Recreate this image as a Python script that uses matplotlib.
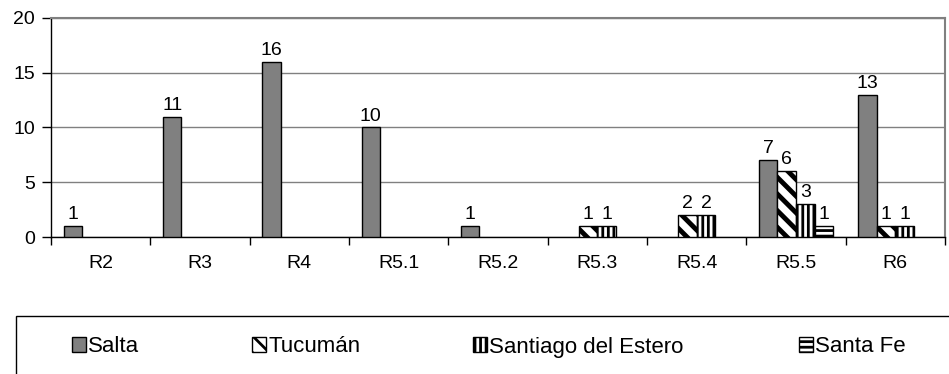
import matplotlib.pyplot as plt
import numpy as np
from matplotlib.patches import Rectangle

plt.rcParams['font.family'] = ['Liberation Sans', 'DejaVu Sans']
plt.rcParams['hatch.linewidth'] = 2.0
plt.rcParams['hatch.color'] = 'black'

# Counts per route and province
categories = ['R2', 'R3', 'R4', 'R5.1', 'R5.2', 'R5.3', 'R5.4', 'R5.5', 'R6']
salta = [1, 11, 16, 10, 1, 0, 0, 7, 13]
tucuman = [0, 0, 0, 0, 0, 1, 2, 6, 1]
santiago = [0, 0, 0, 0, 0, 1, 2, 3, 1]
santa_fe = [0, 0, 0, 0, 0, 0, 0, 1, 0]
series_names = ['Salta', 'Tucumán', 'Santiago del Estero', 'Santa Fe']
series_values = [salta, tucuman, santiago, santa_fe]

fills = ['#808080', 'white', 'white', 'white']
hatches = [None, '\\\\', '|||', '---']
hatch_widths = [2.0, 3.5, 2.0, 2.0]
legend_x = [72, 252, 473, 799]   # pixel position of each legend key

fig = plt.figure(figsize=(9.49, 3.74), dpi=100)
ax = fig.add_axes([51 / 949, 1 - 237 / 374, (945 - 51) / 949, (237 - 18) / 374])

x = np.arange(len(categories))
width = 0.187

handles = []
for i, (name, vals) in enumerate(zip(series_names, series_values)):
    vals = np.array(vals)
    idx = np.nonzero(vals)[0]
    with plt.rc_context({'hatch.linewidth': hatch_widths[i]}):
        bars = ax.bar(x[idx] + (i - 1.5) * width, vals[idx], width,
                      color=fills[i], edgecolor='black', linewidth=1,
                      hatch=hatches[i], label=name, zorder=3)
    handles.append(bars)
    for b, v in zip(bars, vals[idx]):
        ax.annotate(str(v), (b.get_x() + b.get_width() / 2, v),
                    xytext=(0, 5), textcoords='offset points',
                    ha='center', va='baseline', fontsize=14)

ax.set_xlim(-0.5, len(categories) - 0.5)
ax.set_ylim(0, 20)
ax.set_yticks(np.arange(0, 21, 5))
ax.tick_params(axis='y', length=6.5, width=1, pad=5, labelsize=14)

# tick marks between groups, labels centred under each group
ax.set_xticks(np.arange(-0.5, len(categories), 1))
ax.set_xticklabels([])
ax.set_xticks(x, minor=True)
ax.set_xticklabels(categories, minor=True)
ax.tick_params(axis='x', which='major', length=6, width=1)
ax.tick_params(axis='x', which='minor', length=0, pad=13, labelsize=14)

ax.yaxis.grid(True, color='#808080', linewidth=1)
ax.set_axisbelow(True)
for side in ['left', 'bottom']:
    ax.spines[side].set_color('black')
    ax.spines[side].set_linewidth(1)
for side in ['top', 'right']:
    ax.spines[side].set_color('#808080')
    ax.spines[side].set_linewidth(1.5)

# legend box along the bottom, one key per province
fig.add_artist(Rectangle((16 / 949, -0.1), 1.0, (1 - 316 / 374) + 0.1,
                         transform=fig.transFigure, fill=False,
                         edgecolor='black', linewidth=1))
for h, name, lx in zip(handles, series_names, legend_x):
    fig.legend(handles=[h], labels=[name], frameon=False,
               loc='center left', bbox_to_anchor=(lx / 949, 1 - 347 / 374),
               fontsize=16, handlelength=0.63, handleheight=0.63,
               handletextpad=0.1, borderpad=0, borderaxespad=0)

plt.savefig('out.png', dpi=100)
